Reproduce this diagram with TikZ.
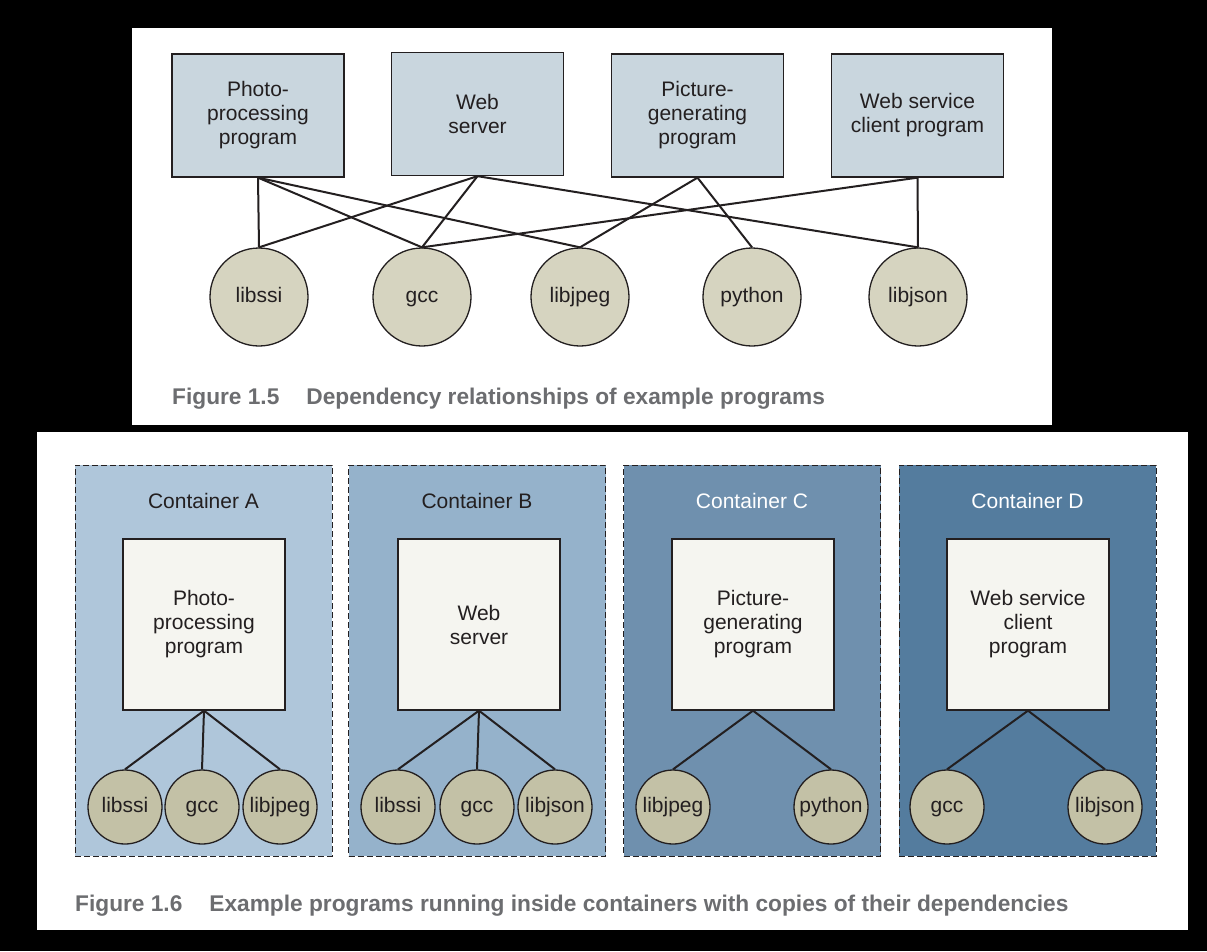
\documentclass[tikz,border=0pt]{standalone}
\usepackage{fontspec}
\setmainfont{Liberation Sans}
\begin{document}
\begin{tikzpicture}[x=1pt,y=-1pt]

  \definecolor{boxcol}{RGB}{201,214,222}
  \definecolor{libcol}{RGB}{214,212,192}
  \definecolor{deplcol}{RGB}{195,193,166}
  \definecolor{progcol}{RGB}{245,245,240}
  \definecolor{linecol}{RGB}{35,31,32}
  \definecolor{capcol}{RGB}{108,109,112}
  \definecolor{contA}{RGB}{175,198,218}
  \definecolor{contB}{RGB}{149,178,203}
  \definecolor{contC}{RGB}{111,144,174}
  \definecolor{contD}{RGB}{84,124,158}

 \tikzset{
      txtstl/.style={font=\fontsize{21}{24}\selectfont,align=center,text=linecol},
      progstl/.style={txtstl,draw=linecol,line width=1.3pt,fill=boxcol,
        minimum width=172pt,minimum height=123pt,inner sep=0pt},
      libstl/.style={txtstl,circle,draw=linecol,line width=1.3pt,fill=libcol,
        minimum size=98pt,inner sep=0pt,text height=15pt,text depth=5pt},
      contstl/.style={draw=linecol,line width=1pt,dash pattern=on 6pt off 3pt,
        minimum width=257pt,minimum height=391pt},
      innerstl/.style={progstl,fill=progcol,minimum width=162pt,minimum height=171pt},
      deplstl/.style={libstl,fill=deplcol,minimum size=74pt},
      linkstl/.style={draw=linecol,line width=2pt},
      capstl/.style={anchor=base west,text=capcol,inner sep=0pt,
        font=\bfseries\fontsize{22.7}{26}\selectfont},
    }

 % background and the two panels
 \fill[black] (0,0) rectangle (1207,951);
 \fill[white] (132,28) rectangle (1052,425);
 \fill[white] (37,432) rectangle (1188,930);

 % figure 1.5
 \node[progstl] (photo) at (258,115.5) {Photo-\\processing\\program};
 \node[progstl] (web) at (477.5,114) {Web\\server};
 \node[progstl] (pict) at (697.5,115.5) {Picture-\\generating\\program};
 \node[progstl] (client) at (917.5,115.5) {Web service\\client program};

 \node[libstl] (ssi) at (259,297) {libssi};
 \node[libstl] (gcc) at (422,297) {gcc};
 \node[libstl] (jpeg) at (580,297) {libjpeg};
 \node[libstl] (py) at (752,297) {python};
 \node[libstl] (json) at (918,297) {libjson};

 \draw[linkstl] (photo.south) -- (ssi.north);
 \draw[linkstl] (photo.south) -- (gcc.north);
 \draw[linkstl] (photo.south) -- (jpeg.north);
 \draw[linkstl] (web.south) -- (ssi.north);
 \draw[linkstl] (web.south) -- (gcc.north);
 \draw[linkstl] (web.south) -- (json.north);
 \draw[linkstl] (pict.south) -- (jpeg.north);
 \draw[linkstl] (pict.south) -- (py.north);
 \draw[linkstl] (client.south) -- (gcc.north);
 \draw[linkstl] (client.south) -- (json.north);

 \node[capstl] (cap5) at (172,404) {Figure 1.5\hspace{27pt}Dependency relationships of example programs};

 % figure 1.6
 \node[contstl,fill=contA] (ca) at (203.5,660.5) {};
 \node[contstl,fill=contB] (cb) at (477,660.5) {};
 \node[contstl,fill=contC] (cc) at (752,660.5) {};
 \node[contstl,fill=contD] (cd) at (1027.5,660.5) {};

 \node[txtstl] (la) at (203.5,501) {Container A};
 \node[txtstl] (lb) at (477,501) {Container B};
 \node[txtstl,text=white] (lc) at (752,501) {Container C};
 \node[txtstl,text=white] (ld) at (1027.5,501) {Container D};

 \node[innerstl] (pa) at (204,624.5) {Photo-\\processing\\program};
 \node[innerstl] (pb) at (479,624.5) {Web\\server};
 \node[innerstl] (pc) at (753,624.5) {Picture-\\generating\\program};
 \node[innerstl] (pd) at (1028,624.5) {Web service\\client\\program};

 \node[deplstl] (assi) at (125,807) {libssi};
 \node[deplstl] (agcc) at (202,807) {gcc};
 \node[deplstl] (ajpeg) at (280,807) {libjpeg};
 \node[deplstl] (bssi) at (398,807) {libssi};
 \node[deplstl] (bgcc) at (477,807) {gcc};
 \node[deplstl] (bjson) at (555,807) {libjson};
 \node[deplstl] (cjpeg) at (673,807) {libjpeg};
 \node[deplstl] (cpy) at (831,807) {python};
 \node[deplstl] (dgcc) at (947,807) {gcc};
 \node[deplstl] (djson) at (1105,807) {libjson};

 \draw[linkstl] (pa.south) -- (assi.north);
 \draw[linkstl] (pa.south) -- (agcc.north);
 \draw[linkstl] (pa.south) -- (ajpeg.north);
 \draw[linkstl] (pb.south) -- (bssi.north);
 \draw[linkstl] (pb.south) -- (bgcc.north);
 \draw[linkstl] (pb.south) -- (bjson.north);
 \draw[linkstl] (pc.south) -- (cjpeg.north);
 \draw[linkstl] (pc.south) -- (cpy.north);
 \draw[linkstl] (pd.south) -- (dgcc.north);
 \draw[linkstl] (pd.south) -- (djson.north);

 \node[capstl] (cap6) at (75,911) {Figure 1.6\hspace{27pt}Example programs running inside containers with copies of their dependencies};

 \useasboundingbox (0,0) rectangle (1207,951);
\end{tikzpicture}
\end{document}
